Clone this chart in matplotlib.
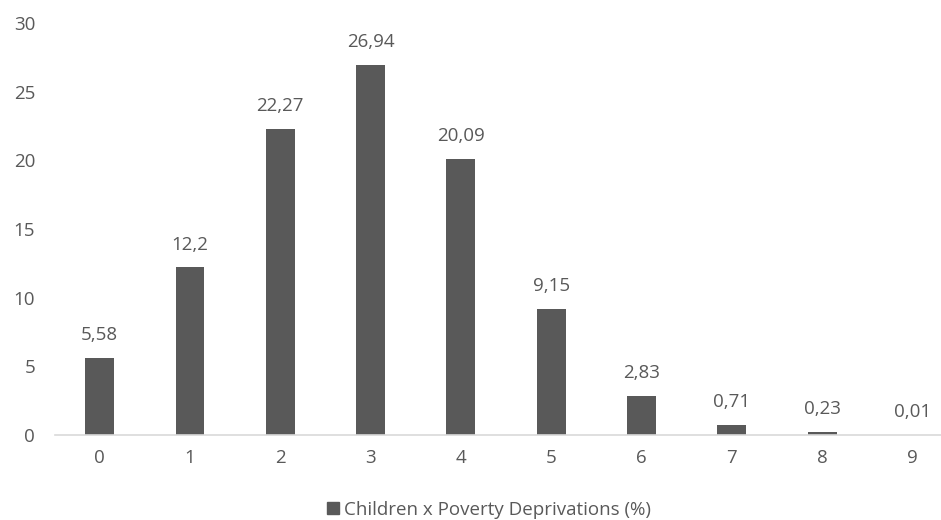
import matplotlib; matplotlib.use("Agg")
import matplotlib.pyplot as plt
from matplotlib.patches import Patch

categories = ["0", "1", "2", "3", "4", "5", "6", "7", "8", "9"]
values = [5.58, 12.2, 22.27, 26.94, 20.09, 9.15, 2.83, 0.71, 0.23, 0.01]
labels = ["5,58", "12,2", "22,27", "26,94", "20,09", "9,15", "2,83", "0,71", "0,23", "0,01"]
yticks = [0, 5, 10, 15, 20, 25, 30]
series_name = "Children x Poverty Deprivations (%)"

plt.rcParams["font.family"] = ["Open Sans", "DejaVu Sans"]
txt = "#595959"
bar_c = "#595959"
fs = 13.5

fig = plt.figure(figsize=(9.41, 5.2), dpi=100)
ax = fig.add_axes([0.058, 0.1635, 0.95, 0.7923])

x = list(range(len(categories)))
bars = ax.bar(x, values, width=0.32, color=bar_c)
for xi, v, lab in zip(x, values, labels):
    ax.annotate(lab, (xi, v), xytext=(0, 10), textcoords="offset points",
                ha="center", va="bottom", fontsize=fs, color=txt)

ax.set_xlim(-0.5, 9.4)
ax.set_ylim(0, 30)
ax.set_yticks(yticks)
ax.set_xticks(x)
ax.set_xticklabels(categories)
for s in ["top", "right", "left"]:
    ax.spines[s].set_visible(False)
ax.spines["bottom"].set_color("#d9d9d9")
ax.spines["bottom"].set_linewidth(1.2)
ax.tick_params(axis="both", length=0, labelsize=fs, labelcolor=txt)
ax.tick_params(axis="x", pad=10)
ax.tick_params(axis="y", pad=14)

fig.legend(handles=[Patch(color=bar_c, label=series_name)], loc="center",
           bbox_to_anchor=(0.52, 0.02), frameon=False, fontsize=fs,
           handlelength=0.6, handleheight=0.6, handletextpad=0.3, labelcolor=txt)

fig.savefig("out.png", dpi=100)
